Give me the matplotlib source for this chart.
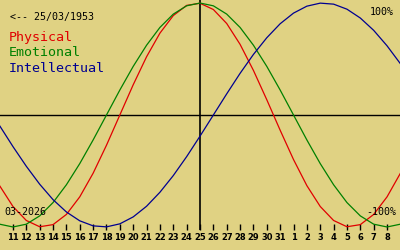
import matplotlib
matplotlib.use("Agg")
import matplotlib.pyplot as plt

# days shown: 10/03 .. 09/04 (2026), offset from 25/03
day_offsets = list(range(-15, 16))
day_labels = ["10", "11", "12", "13", "14", "15", "16", "17", "18", "19", "20",
              "21", "22", "23", "24", "25", "26", "27", "28", "29", "30", "31",
              "1", "2", "3", "4", "5", "6", "7", "8", "9"]

physical = [-0.631, -0.817, -0.942, -0.998, -0.979, -0.888, -0.731, -0.520,
            -0.270, 0.0, 0.270, 0.520, 0.731, 0.888, 0.979, 0.998, 0.942,
            0.817, 0.631, 0.398, 0.136, -0.136, -0.398, -0.631, -0.817,
            -0.942, -0.998, -0.979, -0.888, -0.731, -0.520]
emotional = [-0.975, -1.0, -0.975, -0.901, -0.782, -0.623, -0.434, -0.223,
             0.0, 0.223, 0.434, 0.623, 0.782, 0.901, 0.975, 1.0, 0.975,
             0.901, 0.782, 0.623, 0.434, 0.223, 0.0, -0.223, -0.434, -0.623,
             -0.782, -0.901, -0.975, -1.0, -0.975]
intellectual = [-0.095, -0.282, -0.458, -0.618, -0.756, -0.866, -0.945,
                -0.990, -0.999, -0.972, -0.910, -0.815, -0.690, -0.541,
                -0.372, -0.189, 0.0, 0.189, 0.372, 0.541, 0.690, 0.815,
                0.910, 0.972, 0.999, 0.990, 0.945, 0.866, 0.756, 0.618, 0.458]

bg = "#e0d283"
mono = "DejaVu Sans Mono"

fig = plt.figure(figsize=(4, 2.5), dpi=100, facecolor=bg)
ax = fig.add_axes([0, 0.08, 1, 0.92])
ax.set_facecolor(bg)

ax.axhline(0, color="black", lw=1.0)
ax.axvline(0, color="black", lw=1.2)

ax.plot(day_offsets, physical, color="#e00000", lw=0.9)
ax.plot(day_offsets, emotional, color="#008000", lw=0.9)
ax.plot(day_offsets, intellectual, color="#000090", lw=0.9)

ax.set_xlim(-14.97, 14.97)
ax.set_ylim(-1.027, 1.027)
for s in ax.spines.values():
    s.set_visible(False)

ax.set_xticks(day_offsets[1:-1])
ax.set_xticklabels(day_labels[1:-1], fontsize=6, fontweight="bold", family="DejaVu Sans")
ax.tick_params(axis="x", direction="in", length=4, width=1, pad=2, color="black")
ax.set_yticks([])

fig.text(10 / 400, 1 - 17 / 250, "<-- 25/03/1953", family=mono, fontsize=7.2, va="center")
fig.text(9 / 400, 1 - 37 / 250, "Physical", family=mono, fontsize=9.6, color="#e00000", va="center")
fig.text(9 / 400, 1 - 52 / 250, "Emotional", family=mono, fontsize=9.6, color="#008000", va="center")
fig.text(9 / 400, 1 - 68 / 250, "Intellectual", family=mono, fontsize=9.6, color="#000090", va="center")
fig.text(394 / 400, 1 - 12 / 250, "100%", family=mono, fontsize=7.2, ha="right", va="center")
fig.text(396 / 400, 1 - 212 / 250, "-100%", family=mono, fontsize=7.2, ha="right", va="center")
fig.text(4 / 400, 1 - 212 / 250, "03-2026", family=mono, fontsize=7.2, va="center")

fig.savefig("out.png", dpi=100, facecolor=bg)
